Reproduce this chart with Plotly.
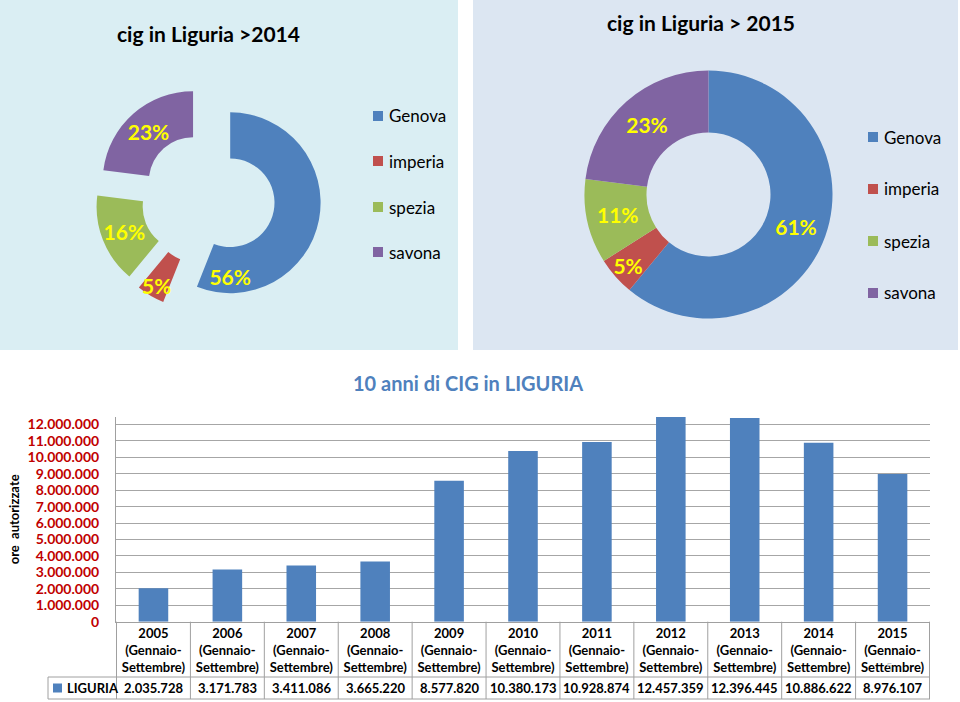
import plotly.graph_objects as go

# ---------------- data ----------------
regions = ["Genova", "imperia", "spezia", "savona"]
region_colors = ["#4F81BD", "#C0504D", "#9BBB59", "#8064A2"]
share_2014 = [56, 5, 16, 23]
share_2015 = [61, 5, 11, 23]

years = ["2005", "2006", "2007", "2008", "2009", "2010",
         "2011", "2012", "2013", "2014", "2015"]
period_label = "(Gennaio-<br>Settembre)"
ore_liguria = [2035728, 3171783, 3411086, 3665220, 8577820, 10380173,
               10928874, 12457359, 12396445, 10886622, 8976107]
y_tick_values = [0, 1000000, 2000000, 3000000, 4000000, 5000000, 6000000,
                 7000000, 8000000, 9000000, 10000000, 11000000, 12000000]
series_name = "LIGURIA"

title_2014 = "cig in Liguria >2014"
title_2015 = "cig in Liguria > 2015"
bar_title = "10 anni di CIG in LIGURIA"
y_title = "ore\u00a0 autorizzate"

# ---------------- helpers ----------------
W, H = 960, 702
FONT = "Lato"


def px(x):
    return x / W


def py(y):
    return 1 - y / H


categories = [f"{y}<br>{period_label}" for y in years]


def it_num(v):
    return f"{v:,}".replace(",", ".")


fig = go.Figure()

# ---------------- pies ----------------
fig.add_trace(go.Pie(
    labels=regions, values=share_2014, sort=False, direction="clockwise",
    rotation=0, hole=0.49, pull=[0.25] * len(regions),
    marker=dict(colors=region_colors, line=dict(width=0)),
    texttemplate="%{value}%", textposition="inside",
    insidetextorientation="horizontal",
    textfont=dict(family=FONT, size=18, color="#FFFF00", weight="bold"),
    domain=dict(x=[px(95), px(321)], y=[py(311.5), py(85.5)]),
    showlegend=False, hoverinfo="label+percent",
))
fig.add_trace(go.Pie(
    labels=regions, values=share_2015, sort=False, direction="clockwise",
    rotation=0, hole=0.5,
    marker=dict(colors=region_colors, line=dict(width=0)),
    texttemplate="%{value}%", textposition="inside",
    insidetextorientation="horizontal",
    textfont=dict(family=FONT, size=21, color="#FFFF00", weight="bold"),
    domain=dict(x=[px(584.5), px(832.5)], y=[py(318.5), py(70.5)]),
    showlegend=False, hoverinfo="label+percent",
))

# ---------------- bars ----------------
fig.add_trace(go.Bar(
    x=categories, y=ore_liguria, name=series_name,
    marker=dict(color="#4F81BD", line=dict(width=0)),
    showlegend=False,
))

shapes = []
annotations = []

# panel backgrounds
shapes.append(dict(type="rect", xref="paper", yref="paper", layer="below",
                   x0=px(0), x1=px(458), y0=py(350), y1=py(0),
                   fillcolor="#DAEEF3", line=dict(width=0)))
shapes.append(dict(type="rect", xref="paper", yref="paper", layer="below",
                   x0=px(473), x1=px(958), y0=py(350), y1=py(0),
                   fillcolor="#DCE6F2", line=dict(width=0)))

# pie titles
annotations.append(dict(text=title_2014, x=px(208), y=py(33), xref="paper", yref="paper",
                        showarrow=False, xanchor="center", yanchor="middle",
                        font=dict(family=FONT, size=21, color="black", weight="bold")))
annotations.append(dict(text=title_2015, x=px(701), y=py(23), xref="paper", yref="paper",
                        showarrow=False, xanchor="center", yanchor="middle",
                        font=dict(family=FONT, size=21, color="black", weight="bold")))

# pie legends
legend_specs = [(373, [116, 161, 207, 252]), (868, [137, 189, 241, 293])]
for lx, ys in legend_specs:
    for name, col, yy in zip(regions, region_colors, ys):
        shapes.append(dict(type="rect", xref="paper", yref="paper",
                           x0=px(lx), x1=px(lx + 10), y0=py(yy + 5), y1=py(yy - 5),
                           fillcolor=col, line=dict(width=0)))
        annotations.append(dict(text=name, x=px(lx + 14), y=py(yy), xref="paper", yref="paper",
                                showarrow=False, xanchor="left", yanchor="middle",
                                font=dict(family=FONT, size=17, color="black")))

# bar chart title
annotations.append(dict(text=bar_title, x=px(468), y=py(383), xref="paper", yref="paper",
                        showarrow=False, xanchor="center", yanchor="middle",
                        font=dict(family=FONT, size=20, color="#4F81BD", weight="bold")))

# data table under the bars
grid_col = "#A0A0A0"
t_row = 677
t_bot = 699
axis_y = 621.7
for i in range(len(categories) + 1):
    shapes.append(dict(type="line", xref="x", yref="paper",
                       x0=i - 0.5, x1=i - 0.5, y0=py(t_bot), y1=py(axis_y),
                       line=dict(color=grid_col, width=1)))
for yy in (t_row, t_bot):
    shapes.append(dict(type="line", xref="paper", yref="paper",
                       x0=px(48), x1=px(930), y0=py(yy), y1=py(yy),
                       line=dict(color=grid_col, width=1)))
shapes.append(dict(type="line", xref="paper", yref="paper",
                   x0=px(48), x1=px(48), y0=py(t_bot), y1=py(t_row),
                   line=dict(color=grid_col, width=1)))
shapes.append(dict(type="rect", xref="paper", yref="paper",
                   x0=px(53), x1=px(62), y0=py(692.5), y1=py(683.5),
                   fillcolor="#4F81BD", line=dict(width=0)))
annotations.append(dict(text=series_name, x=px(65), y=py(688), xref="paper", yref="paper",
                        showarrow=False, xanchor="left", yanchor="middle",
                        font=dict(family=FONT, size=13, color="black", weight="bold")))
for c, v in zip(categories, ore_liguria):
    annotations.append(dict(text=it_num(v), x=c, y=py(688), xref="x", yref="paper",
                            showarrow=False, xanchor="center", yanchor="middle",
                            font=dict(family=FONT, size=13, color="black", weight="bold")))

# slide number
annotations.append(dict(text="5", x=px(894), y=py(675), xref="paper", yref="paper",
                        showarrow=False, font=dict(family=FONT, size=11, color="#BFBFBF")))

fig.update_layout(
    width=W, height=H,
    margin=dict(l=0, r=0, t=0, b=0),
    paper_bgcolor="white", plot_bgcolor="white",
    separators=",.",
    bargap=0.6,
    font=dict(family=FONT, color="black"),
    uniformtext=dict(minsize=21, mode="show"),
    shapes=shapes, annotations=annotations,
    xaxis=dict(domain=[px(116), px(930)], showgrid=False, showline=True,
               linecolor=grid_col, linewidth=1, ticks="", automargin=False,
               tickfont=dict(family=FONT, size=13, color="black", weight="bold"),
               fixedrange=True),
    yaxis=dict(domain=[py(621.7), py(417)], range=[0, 12450000],
               tickvals=y_tick_values, tickformat=",d",
               showgrid=True, gridcolor="#A6A6A6", gridwidth=1,
               showline=True, linecolor=grid_col, linewidth=1,
               zeroline=False, ticks="", automargin=False,
               ticklabelstandoff=13,
               tickfont=dict(family=FONT, size=14, color="#C00000", weight="bold"),
               title=dict(text=y_title, standoff=5,
                          font=dict(family=FONT, size=13, color="black", weight="bold")),
               fixedrange=True),
)

fig.write_html(
    "out.html",
    config={"displayModeBar": False},
    post_script="document.body.style.margin='0';document.body.style.padding='0';",
)
